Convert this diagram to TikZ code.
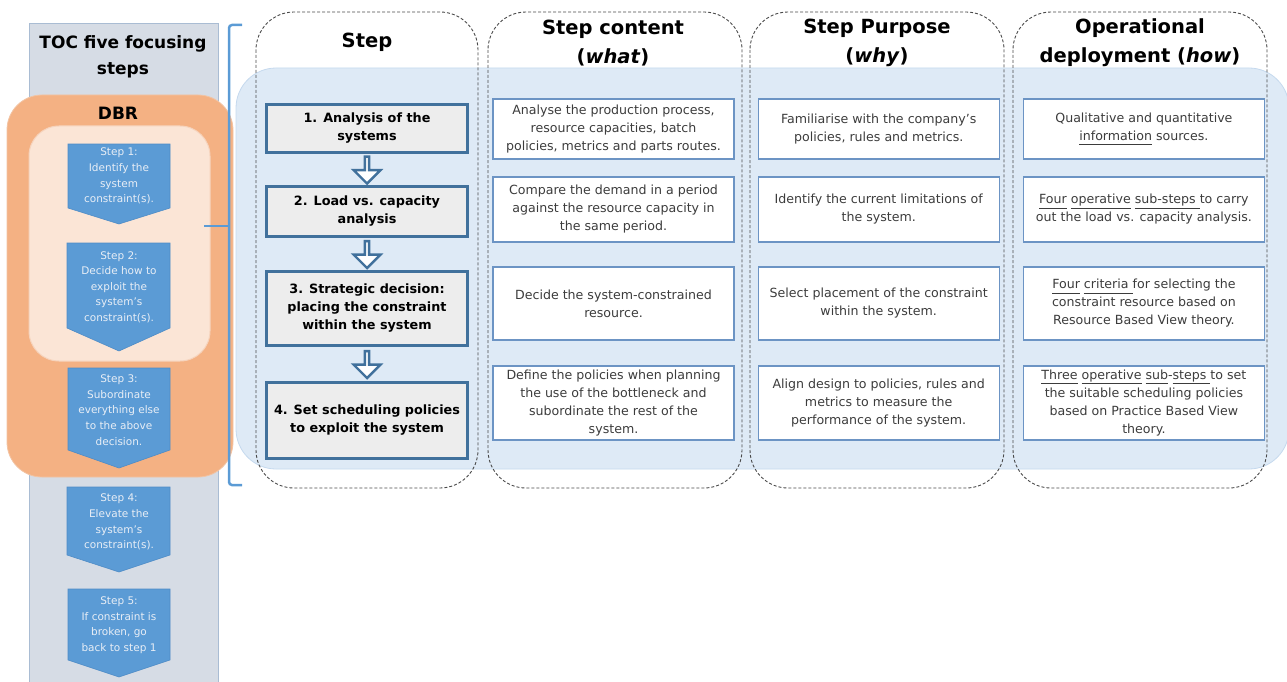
\documentclass[tikz,border=0pt]{standalone}
\usepackage{fontspec}
\setmainfont{DejaVu Sans}
\usetikzlibrary{positioning,shapes.arrows,calc}
\definecolor{tocgray}{HTML}{D6DCE5}
\definecolor{tocline}{HTML}{A9BCD3}
\definecolor{dbrorange}{HTML}{F4B183}
\definecolor{dbrline}{HTML}{F2C4A4}
\definecolor{dbrpeach}{HTML}{FBE5D6}
\definecolor{peachline}{HTML}{F6D3BC}
\definecolor{chevblue}{HTML}{5B9BD5}
\definecolor{chevline}{HTML}{4F8CC6}
\definecolor{chevtext}{HTML}{E8EEF6}
\definecolor{areablue}{HTML}{DEEAF6}
\definecolor{arealine}{HTML}{C5D9EE}
\definecolor{boxline}{HTML}{41719C}
\definecolor{txtline}{HTML}{6C94C4}
\definecolor{stepgray}{HTML}{EDEDED}
\definecolor{txtgray}{HTML}{3C3C3C}
\definecolor{colgray}{HTML}{4A4A4A}
\newcommand\ulword[1]{\underline{\vphantom{p}#1}}
\tikzset{toc title/.style={font=\bfseries\fontsize{17}{26}\selectfont, align=center, inner sep=0pt},
	chev/.style={fill=chevblue, draw=chevline, line width=0.6pt},
	chev text/.style={text=chevtext, font=\fontsize{10.5}{15.6}\selectfont, align=center, inner sep=0pt},
	column/.style={draw=colgray, dash pattern=on 3pt off 2pt, line width=0.9pt, rounded corners=38pt},
	header/.style={font=\bfseries\fontsize{19.5}{29}\selectfont, align=center, inner sep=0pt},
	step box/.style={draw=boxline, line width=3pt, fill=stepgray, minimum width=201pt, align=center, font=\bfseries\fontsize{12.8}{18}\selectfont, inner sep=0pt},
	text box/.style={draw=txtline, line width=1.2pt, fill=white, minimum width=241pt, align=center, text=txtgray, font=\fontsize{12.6}{18}\selectfont, inner sep=0pt},
	hollow arrow/.style={single arrow, draw=boxline, line width=2.4pt, fill=white, rotate=-90, minimum height=27pt, minimum width=27pt, single arrow head extend=6.5pt, inner sep=0pt},
	brace/.style={draw=chevblue, line width=2.5pt, rounded corners=3pt},
}

\begin{document}
\begin{tikzpicture}[x=1pt,y=-1pt]
	\useasboundingbox (0,0) rectangle (1287,682);
	
	% TOC five focusing steps
	\filldraw[fill=tocgray, draw=tocline, line width=1pt] (29,24) rectangle (218,700);
	\node[toc title] (toc) at (123,57) {TOC five focusing\\steps};
	\filldraw[fill=dbrorange, draw=dbrline, line width=0.8pt, rounded corners=35pt] (7,95) rectangle (233,477);
	\node[toc title] (dbr) at (118,113) {DBR};
	\filldraw[fill=dbrpeach, draw=peachline, line width=1pt, rounded corners=30pt] (29,126) rectangle (210,361);
	
	\filldraw[chev] (68,144) -- (170,144) -- (170,208) -- (119,224) -- (68,208) -- cycle;
	\node[chev text] (s1) at (119,176) {Step 1:\\Identify the\\system\\constraint(s).};
	\filldraw[chev] (67,243) -- (170,243) -- (170,328) -- (119,351) -- (67,328) -- cycle;
	\node[chev text] (s2) at (119,287) {Step 2:\\Decide how to\\exploit the\\system’s\\constraint(s).};
	\filldraw[chev] (68,368) -- (170,368) -- (170,450) -- (119,468) -- (68,450) -- cycle;
	\node[chev text] (s3) at (119,410) {Step 3:\\Subordinate\\everything else\\to the above\\decision.};
	\filldraw[chev] (67,487) -- (170,487) -- (170,555) -- (119,572) -- (67,555) -- cycle;
	\node[chev text] (s4) at (119,522) {Step 4:\\Elevate the\\system’s\\constraint(s).};
	\filldraw[chev] (68,589) -- (170,589) -- (170,660) -- (119,677) -- (68,660) -- cycle;
	\node[chev text] (s5) at (119,625) {Step 5:\\If constraint is\\broken, go\\back to step 1};
	
	% framework area
	\filldraw[fill=areablue, draw=arealine, line width=0.8pt, rounded corners=40pt] (236,68) rectangle (1289,469);
	\draw[column] (256,12) rectangle (478,488);
	\draw[column] (488,12) rectangle (742,488);
	\draw[column] (750,12) rectangle (1004,488);
	\draw[column] (1013,12) rectangle (1267,488);
	
	\node[header] (hd1) at (367,42) {Step};
	\node[header] (hd2) at (613,43) {Step content\\(\textit{what})};
	\node[header] (hd3) at (877,43) {Step Purpose\\(\textit{why})};
	\node[header] (hd4) at (1140,43) {Operational\\deployment (\textit{how})};
	
	\node[step box, minimum height=47pt] (st1) at (367,128.5) {1. Analysis of the\\systems};
	\node[step box, minimum height=50pt, below=31pt of st1] (st2) {2. Load vs. capacity\\analysis};
	\node[step box, minimum height=74pt, below=32pt of st2] (st3) {3. Strategic decision:\\placing the constraint\\within the system};
	\node[step box, minimum height=76pt, below=34pt of st3] (st4) {4. Set scheduling policies\\to exploit the system};
	
	\node[hollow arrow] (a1) at ($(st1.south)!0.5!(st2.north)$) {};
	\node[hollow arrow] (a2) at ($(st2.south)!0.5!(st3.north)$) {};
	\node[hollow arrow] (a3) at ($(st3.south)!0.5!(st4.north)$) {};
	
	\node[text box, minimum height=60pt] (what1) at (613.5,129) {Analyse the production process,\\resource capacities, batch\\policies, metrics and parts routes.};
	\node[text box, minimum height=65pt] (what2) at (613.5,209.5) {Compare the demand in a period\\against the resource capacity in\\the same period.};
	\node[text box, minimum height=73pt] (what3) at (613.5,303.5) {Decide the system-constrained\\resource.};
	\node[text box, minimum height=74pt] (what4) at (613.5,403) {Define the policies when planning\\the use of the bottleneck and\\subordinate the rest of the\\system.};
	
	\node[text box, minimum height=60pt, right=23pt of what1] (why1) {Familiarise with the company’s\\policies, rules and metrics.};
	\node[text box, minimum height=65pt, right=23pt of what2] (why2) {Identify the current limitations of\\the system.};
	\node[text box, minimum height=73pt, right=23pt of what3] (why3) {Select placement of the constraint\\within the system.};
	\node[text box, minimum height=74pt, right=23pt of what4] (why4) {Align design to policies, rules and\\metrics to measure the\\performance of the system.};
	
	\node[text box, minimum height=60pt, right=23pt of why1] (how1) {Qualitative and quantitative\\\ulword{information} sources.};
	\node[text box, minimum height=65pt, right=23pt of why2] (how2) {\ulword{Four} \ulword{operative} \ulword{sub-steps }to carry\\out the load vs. capacity analysis.};
	\node[text box, minimum height=73pt, right=23pt of why3] (how3) {\ulword{Four} \ulword{criteria }for selecting the\\constraint resource based on\\Resource Based View theory.};
	\node[text box, minimum height=74pt, right=23pt of why4] (how4) {\ulword{Three} \ulword{operative} \ulword{sub}-\ulword{steps }to set\\the suitable scheduling policies\\based on Practice Based View\\theory.};
	
	% bracket
	\draw[brace] (242,25) -- (229,25) -- (229,485) -- (242,485);
	\draw[brace] (229,226) -- (204,226);
\end{tikzpicture}
\end{document}
